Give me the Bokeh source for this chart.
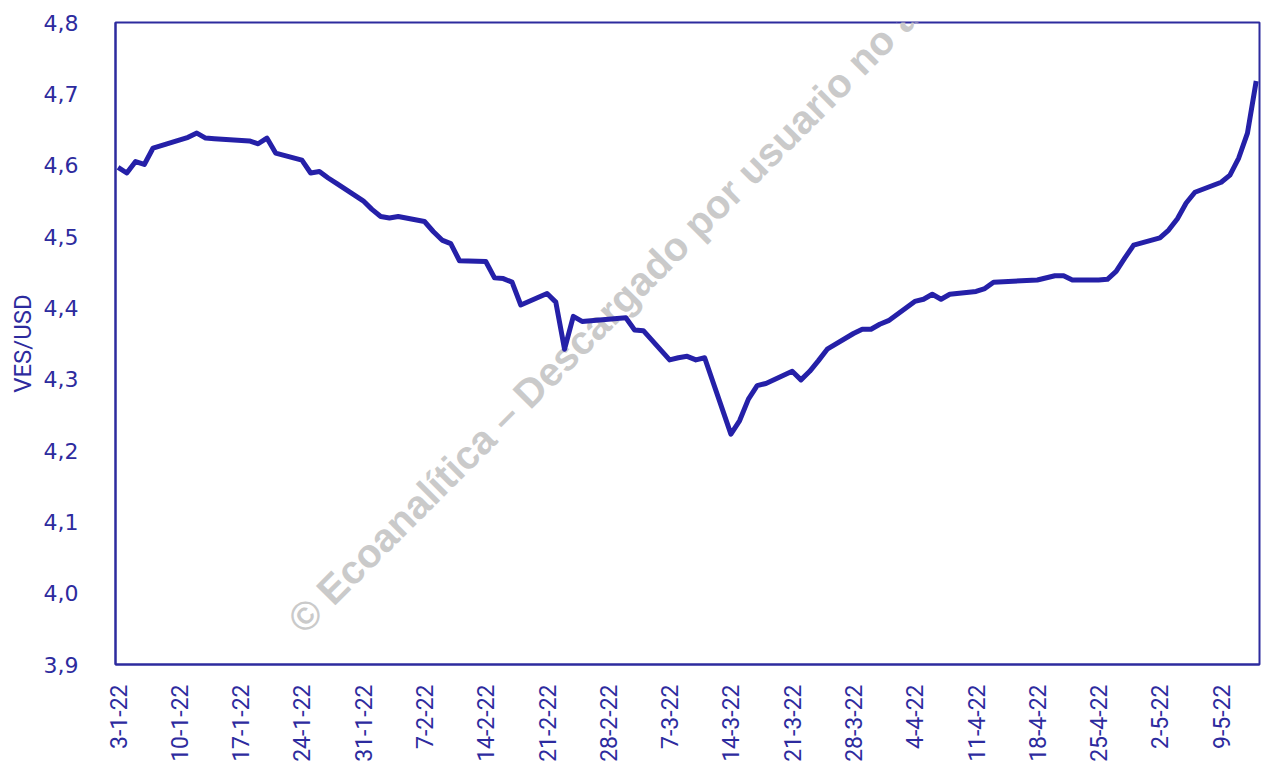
from datetime import datetime
from bokeh.plotting import figure
from bokeh.models import (ColumnDataSource, Range1d, FixedTicker, CustomJSTickFormatter,
                          DatetimeAxis, LinearAxis, Label)
from bokeh.embed import file_html
from bokeh.resources import INLINE

# ---------------- data ----------------
dates = [
    "2022-01-03", "2022-01-04", "2022-01-05", "2022-01-06", "2022-01-07",
    "2022-01-11", "2022-01-12", "2022-01-13", "2022-01-14",
    "2022-01-18", "2022-01-19", "2022-01-20", "2022-01-21",
    "2022-01-24", "2022-01-25", "2022-01-26", "2022-01-27", "2022-01-28",
    "2022-01-31", "2022-02-01", "2022-02-02", "2022-02-03", "2022-02-04",
    "2022-02-07", "2022-02-08", "2022-02-09", "2022-02-10", "2022-02-11",
    "2022-02-14", "2022-02-15", "2022-02-16", "2022-02-17", "2022-02-18",
    "2022-02-21", "2022-02-22", "2022-02-23", "2022-02-24", "2022-02-25",
    "2022-03-02", "2022-03-03", "2022-03-04",
    "2022-03-07", "2022-03-08", "2022-03-09", "2022-03-10", "2022-03-11",
    "2022-03-14", "2022-03-15", "2022-03-16", "2022-03-17", "2022-03-18",
    "2022-03-21", "2022-03-22", "2022-03-23", "2022-03-24", "2022-03-25",
    "2022-03-28", "2022-03-29", "2022-03-30", "2022-03-31", "2022-04-01",
    "2022-04-04", "2022-04-05", "2022-04-06", "2022-04-07", "2022-04-08",
    "2022-04-11", "2022-04-12", "2022-04-13",
    "2022-04-18", "2022-04-20", "2022-04-21", "2022-04-22",
    "2022-04-25", "2022-04-26", "2022-04-27", "2022-04-28", "2022-04-29",
    "2022-05-02", "2022-05-03", "2022-05-04", "2022-05-05", "2022-05-06",
    "2022-05-09", "2022-05-10", "2022-05-11", "2022-05-12", "2022-05-13",
]
ves_usd = [
    4.597, 4.589, 4.605, 4.601, 4.624,
    4.639, 4.645, 4.638, 4.637,
    4.634, 4.630, 4.638, 4.617,
    4.607, 4.589, 4.591, 4.582, 4.574,
    4.550, 4.538, 4.528, 4.526, 4.528,
    4.521, 4.507, 4.495, 4.490, 4.466,
    4.465, 4.442, 4.441, 4.436, 4.404,
    4.420, 4.408, 4.342, 4.388, 4.381,
    4.386, 4.369, 4.368,
    4.327, 4.330, 4.332, 4.327, 4.330,
    4.223, 4.242, 4.272, 4.291, 4.294,
    4.311, 4.299, 4.311, 4.326, 4.342,
    4.364, 4.370, 4.370, 4.377, 4.382,
    4.409, 4.412, 4.419, 4.412, 4.419,
    4.423, 4.427, 4.436,
    4.439, 4.445, 4.445, 4.439,
    4.439, 4.440, 4.451, 4.470, 4.488,
    4.498, 4.509, 4.525, 4.547, 4.562,
    4.576, 4.586, 4.610, 4.645, 4.718,
]

tick_dates = ["2022-01-03", "2022-01-10", "2022-01-17", "2022-01-24", "2022-01-31",
              "2022-02-07", "2022-02-14", "2022-02-21", "2022-02-28", "2022-03-07",
              "2022-03-14", "2022-03-21", "2022-03-28", "2022-04-04", "2022-04-11",
              "2022-04-18", "2022-04-25", "2022-05-02", "2022-05-09"]
tick_labels = ["3-1-22", "10-1-22", "17-1-22", "24-1-22", "31-1-22", "7-2-22", "14-2-22",
               "21-2-22", "28-2-22", "7-3-22", "14-3-22", "21-3-22", "28-3-22", "4-4-22",
               "11-4-22", "18-4-22", "25-4-22", "2-5-22", "9-5-22"]
y_ticks = [3.9, 4.0, 4.1, 4.2, 4.3, 4.4, 4.5, 4.6, 4.7, 4.8]
y_title = "VES/USD"
watermark = "© Ecoanalítica – Descargado por usuario no autenticado"

# ---------------- styling ----------------
LINE = "#2520a8"
INK = "#2d2b9e"

epoch = datetime(1970, 1, 1)
def ms(s):
    return (datetime.strptime(s, "%Y-%m-%d") - epoch).total_seconds() * 1000.0

src = ColumnDataSource(dict(x=[datetime.strptime(d, "%Y-%m-%d") for d in dates], y=ves_usd))

p = figure(width=1267, height=765, output_backend="svg", toolbar_location=None,
           x_axis_type=None, y_axis_type=None,
           x_range=Range1d(datetime(2022, 1, 2, 17, 0), datetime(2022, 5, 13, 9, 0)),
           y_range=Range1d(3.9, 4.8),
           min_border_left=115, min_border_right=8, min_border_top=22, min_border_bottom=101)
p.background_fill_color = "white"
p.border_fill_color = "white"
p.outline_line_color = INK
p.outline_line_width = 2

# axes
xaxis = DatetimeAxis()
xaxis.ticker = FixedTicker(ticks=[ms(d) for d in tick_dates])
xaxis.formatter = CustomJSTickFormatter(
    args=dict(tvals=[ms(d) for d in tick_dates], tlabs=tick_labels),
    code="const i = tvals.findIndex(t => Math.abs(t - tick) < 1000); return i >= 0 ? tlabs[i] : '';")
xaxis.major_label_orientation = 3.14159265 / 2
xaxis.major_label_text_font = "Roboto"
xaxis.major_label_text_font_size = "23px"
xaxis.major_label_text_color = INK
xaxis.major_label_standoff = 14
xaxis.major_tick_line_color = None
xaxis.minor_tick_line_color = None
xaxis.axis_line_color = INK
xaxis.axis_line_width = 2
p.add_layout(xaxis, "below")

yaxis = LinearAxis()
yaxis.ticker = FixedTicker(ticks=y_ticks)
yaxis.formatter = CustomJSTickFormatter(code="return tick.toFixed(1).replace('.', ',');")
yaxis.major_label_text_font = "DejaVu Sans"
yaxis.major_label_text_font_size = "22px"
yaxis.major_label_text_color = INK
yaxis.major_label_standoff = 31
yaxis.major_tick_line_color = None
yaxis.minor_tick_line_color = None
yaxis.axis_line_color = INK
yaxis.axis_line_width = 2
yaxis.axis_label = y_title
yaxis.axis_label_text_font = "Roboto"
yaxis.axis_label_text_font_style = "normal"
yaxis.axis_label_text_font_size = "24px"
yaxis.axis_label_text_color = INK
yaxis.axis_label_standoff = 4
p.add_layout(yaxis, "left")

p.ygrid.ticker = FixedTicker(ticks=y_ticks[1:-1])
p.ygrid.grid_line_color = INK
p.ygrid.grid_line_dash = "9 5"
p.ygrid.grid_line_width = 1.5
p.xgrid.visible = False

# watermark, under the data line
wm = Label(x=195, y=23, x_units="screen", y_units="screen", text=watermark,
           angle=45, angle_units="deg", text_font="'Liberation Sans', Arial",
           text_font_style="bold", text_font_size="40px", text_color="#cacaca",
           level="underlay")
p.add_layout(wm)

p.line("x", "y", source=src, line_color=LINE, line_width=5, line_join="round")

open("out.html", "w").write(file_html(p, INLINE))
